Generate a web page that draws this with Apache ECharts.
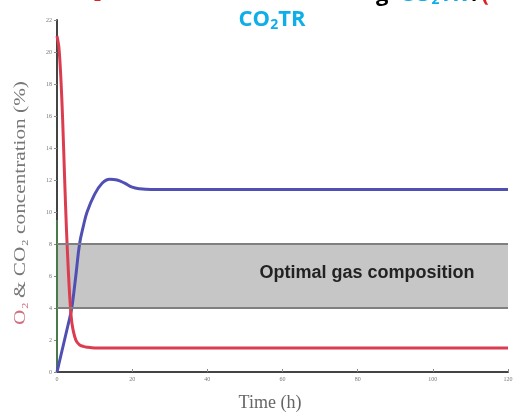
<!DOCTYPE html>
<html><head><meta charset="utf-8">
<script src="https://cdn.jsdelivr.net/npm/echarts@6/dist/echarts.min.js"></script>
<style>html,body{margin:0;padding:0;background:#fff}#c{width:517px;height:416px}</style>
</head><body><div id="c"></div>
<script>
const time = [0, 0.5, 1, 1.5, 2, 2.5, 3, 3.5, 4, 5, 6, 7, 8, 10, 12, 14, 16, 18, 20, 22, 25, 30, 60, 90, 120];
const o2   = [21, 20.3, 18.5, 15.8, 12.3, 9, 6.4, 4.3, 3, 2, 1.7, 1.6, 1.55, 1.5, 1.5, 1.5, 1.5, 1.5, 1.5, 1.5, 1.5, 1.5, 1.5, 1.5, 1.5];
const co2  = [0, 0.5, 1, 1.5, 2, 2.5, 3, 3.5, 4.1, 6, 8, 9.1, 10, 11.1, 11.8, 12.05, 12.0, 11.8, 11.55, 11.45, 11.4, 11.4, 11.4, 11.4, 11.4];
const bandLow = 4, bandHigh = 8;
const bandLabel = 'Optimal gas composition';
const xTicks = {min: 0, max: 120, interval: 20};
const yTicks = {min: 0, max: 22, interval: 2};
const n2Edge = [[0, 0], [0, 9.5]];

const chart = echarts.init(document.getElementById('c'));
const pairs = arr => time.map((t, i) => [t, arr[i]]);
chart.setOption({
  animation: false,
  backgroundColor: '#fff',
  grid: {left: 57, right: 9, top: 20, bottom: 44},
  xAxis: {
    type: 'value', min: xTicks.min, max: xTicks.max, interval: xTicks.interval,
    axisLine: {lineStyle: {color: '#444', width: 2}},
    axisTick: {inside: true, length: 3, lineStyle: {color: '#888'}},
    axisLabel: {fontSize: 6, color: '#777', margin: 4, fontFamily: 'Liberation Serif'},
    splitLine: {show: false}
  },
  yAxis: {
    type: 'value', min: yTicks.min, max: yTicks.max, interval: yTicks.interval,
    axisLine: {show: true, lineStyle: {color: '#444', width: 2}},
    axisTick: {show: true, inside: false, length: 3, lineStyle: {color: '#888'}},
    axisLabel: {fontSize: 6, color: '#777', margin: 5, fontFamily: 'Liberation Serif'},
    splitLine: {show: false}
  },
  series: [
    {
      type: 'line', data: [], silent: true,
      markArea: {silent: true, itemStyle: {color: '#c6c6c6', borderWidth: 0},
        label: {show: false},
        data: [[{yAxis: bandLow}, {yAxis: bandHigh}]]},
      markLine: {silent: true, symbol: 'none', label: {show: false},
        lineStyle: {color: '#808080', width: 2, type: 'solid'},
        data: [{yAxis: bandLow}, {yAxis: bandHigh}]}
    },
    {type: 'line', data: n2Edge, symbol: 'none', lineStyle: {color: '#4a7a4a', width: 2}},
    {type: 'line', name: 'CO2', data: pairs(co2), symbol: 'none', smooth: 0.4,
      lineStyle: {color: '#5050b4', width: 3}},
    {type: 'line', name: 'O2', data: pairs(o2), symbol: 'none', smooth: 0.3,
      lineStyle: {color: '#dc3c50', width: 3}}
  ],
  graphic: [
    {type: 'text', x: 367, y: 273, z: 100,
      style: {text: bandLabel, fill: '#222', font: 'bold 18px "Liberation Sans"', align: 'center', verticalAlign: 'middle'}},
    {type: 'text', x: 270, y: 403, z: 100,
      style: {text: 'Time (h)', fill: '#666', font: '18px "Liberation Serif"', align: 'center', verticalAlign: 'middle'}},
    {type: 'text', x: 21, y: 203, rotation: Math.PI / 2, scaleX: 1.25, z: 100,
      style: {
        text: '{r|O₂} {g|& CO₂ concentration (%)}',
        align: 'center', verticalAlign: 'middle',
        rich: {r: {fill: '#d07080', font: '17px "Liberation Serif"'}, g: {fill: '#777', font: '17px "Liberation Serif"'}}
      }},
    {type: 'text', x: 272, y: 20, z: 100,
      style: {text: '{a|CO}{s|2}{a|TR}', align: 'center', verticalAlign: 'middle',
        rich: {a: {fill: '#0eaee8', font: 'bold 22px "Open Sans"'}, s: {fill: '#0eaee8', font: 'bold 14px "Open Sans"', padding: [10, 0, 0, 0]}}}},
    {type: 'text', x: 376, y: -5, z: 100,
      style: {text: '{k|g  }{a|CO}{s|2}{a|TR }{k|/}{r|(}', verticalAlign: 'middle',
        rich: {k: {fill: '#000', font: 'bold 22px "Open Sans"'}, a: {fill: '#0eaee8', font: 'bold 22px "Open Sans"'}, s: {fill: '#0eaee8', font: 'bold 14px "Open Sans"', padding: [10, 0, 0, 0]}, r: {fill: '#e02020', font: 'bold 22px "Open Sans"'}}}},
    {type: 'text', x: 94, y: -8, z: 100,
      style: {text: '2', fill: '#e02020', font: 'bold 12px "Open Sans"'}}
  ]
});
</script></body></html>
